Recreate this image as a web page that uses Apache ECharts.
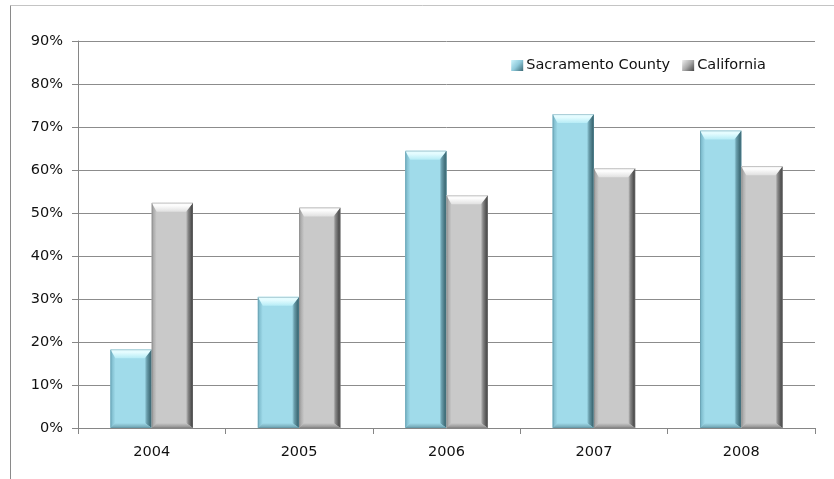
<!DOCTYPE html>
<html>
<head>
<meta charset="utf-8">
<script src="https://cdn.jsdelivr.net/npm/echarts@6/dist/echarts.min.js"></script>
<style>
  html, body { margin: 0; padding: 0; background: #fff; }
  #chart { width: 834px; height: 479px; }
</style>
</head>
<body>
<div id="chart"></div>
<script>
// Share of respondents by year
const years = ['2004', '2005', '2006', '2007', '2008'];
const sacramento = [18.3, 30.5, 64.5, 73.0, 69.2];
const california = [52.4, 51.3, 54.1, 60.4, 60.9];
const seriesNames = ['Sacramento County', 'California'];
const yTicks = [0, 10, 20, 30, 40, 50, 60, 70, 80, 90];

// Bevel palettes: face, top highlight, left, right shadow, bottom
const palettes = [
  { face: '#a0dbea', topHi: '#e4fcff', topLo: '#b6ecf6', left: '#74b2c4', right: '#2f5963', mid: '#6a9eac', bottom: '#6c9fad', edge: '#5f93a2' },
  { face: '#c9c9c9', topHi: '#fcfcfc', topLo: '#e0e0e0', left: '#9c9c9c', right: '#383838', mid: '#8a8a8a', bottom: '#8a8a8a', edge: '#808080' }
];

function bevelBar(seriesIdx) {
  return function (params, api) {
    const idx = api.value(0);
    const val = api.value(1);
    const base = api.coord([idx, 0]);
    const top = api.coord([idx, val]);
    const band = api.size([1, 0])[0];
    const bw = band * 0.28;
    const x0 = seriesIdx === 0 ? base[0] - bw : base[0];
    const x1 = x0 + bw;
    const y0 = top[1];
    const y1 = base[1];
    const p = palettes[seriesIdx];
    const bt = 9, bl = 5, br = 7, bb = 5;
    const h = y1 - y0;
    const tb = Math.min(bt, h / 2), bbb = Math.min(bb, h / 2);
    return {
      type: 'group',
      children: [
        { type: 'rect', shape: { x: x0, y: y0, width: bw, height: h },
          style: { fill: p.face } },
        { type: 'polygon', shape: { points: [[x0, y0], [x0 + bl, y0 + tb], [x0 + bl, y1 - bbb], [x0, y1]] },
          style: { fill: new echarts.graphic.LinearGradient(0, 0, 1, 0, [
            { offset: 0, color: p.left }, { offset: 1, color: p.face }]) } },
        { type: 'polygon', shape: { points: [[x1, y0], [x1 - br, y0 + tb], [x1 - br, y1 - bbb], [x1, y1]] },
          style: { fill: new echarts.graphic.LinearGradient(0, 0, 1, 0, [
            { offset: 0, color: p.face }, { offset: 0.3, color: p.mid }, { offset: 1, color: p.right }]) } },
        { type: 'polygon', shape: { points: [[x0, y1], [x0 + bl, y1 - bbb], [x1 - br, y1 - bbb], [x1, y1]] },
          style: { fill: new echarts.graphic.LinearGradient(0, 0, 0, 1, [
            { offset: 0, color: p.face }, { offset: 1, color: p.bottom }]) } },
        { type: 'polygon', shape: { points: [[x0, y0], [x1, y0], [x1 - br, y0 + tb], [x0 + bl, y0 + tb]] },
          style: { fill: new echarts.graphic.LinearGradient(0, 0, 0, 1, [
            { offset: 0, color: p.topHi }, { offset: 0.35, color: p.topHi }, { offset: 1, color: p.topLo }]) } },
        { type: 'rect', shape: { x: x0 + 0.5, y: y0 + 0.5, width: bw - 1, height: h - 1 },
          style: { fill: 'none', stroke: p.edge, lineWidth: 1, opacity: 0.45 } }
      ]
    };
  };
}

const chart = echarts.init(document.getElementById('chart'), null, { renderer: 'canvas' });
const textFont = 'DejaVu Sans';

chart.setOption({
  animation: false,
  textStyle: { fontFamily: textFont },
  graphic: [
    { type: 'line', shape: { x1: 10.5, y1: 5.5, x2: 834, y2: 5.5 },
      style: { stroke: '#c4c4c4', lineWidth: 1 }, z: 0 },
    { type: 'line', shape: { x1: 10.5, y1: 5.5, x2: 10.5, y2: 479 },
      style: { stroke: '#8a8a8a', lineWidth: 1 }, z: 0 }
  ],
  legend: {
    top: 53,
    right: 63,
    itemWidth: 12,
    itemHeight: 11,
    itemGap: 12,
    icon: 'rect',
    textStyle: { fontFamily: textFont, fontSize: 14.5, color: '#111', padding: [0, 0, 0, -2] },
    data: [
      { name: seriesNames[0], itemStyle: { color: new echarts.graphic.LinearGradient(0, 0, 1, 1, [
          { offset: 0, color: '#cdf4fc' }, { offset: 0.5, color: '#8fcadb' }, { offset: 1, color: '#3b6a76' }]) } },
      { name: seriesNames[1], itemStyle: { color: new echarts.graphic.LinearGradient(0, 0, 1, 1, [
          { offset: 0, color: '#eeeeee' }, { offset: 0.5, color: '#aaaaaa' }, { offset: 1, color: '#454545' }]) } }
    ]
  },
  grid: { left: 78, right: 19, top: 41, bottom: 51, containLabel: false },
  xAxis: {
    type: 'category',
    data: years,
    axisLine: { lineStyle: { color: '#868686', width: 1 } },
    axisTick: { show: true, length: 6, lineStyle: { color: '#868686' } },
    axisLabel: { color: '#111', fontSize: 14.5, margin: 17, fontFamily: textFont }
  },
  yAxis: {
    type: 'value',
    min: 0,
    max: 90,
    interval: 10,
    axisLine: { show: true, lineStyle: { color: '#868686', width: 1 } },
    axisTick: { show: true, length: 6, lineStyle: { color: '#868686' } },
    axisLabel: { color: '#111', fontSize: 14.5, margin: 15, fontFamily: textFont,
      formatter: v => (yTicks.includes(v) ? v + '%' : '') },
    splitLine: { lineStyle: { color: '#8c8c8c', width: 1 } }
  },
  series: [
    { name: seriesNames[0], type: 'custom', renderItem: bevelBar(0),
      itemStyle: { color: '#8fcadb' },
      encode: { x: 0, y: 1 },
      data: sacramento.map((v, i) => [i, v]) },
    { name: seriesNames[1], type: 'custom', renderItem: bevelBar(1),
      itemStyle: { color: '#aaaaaa' },
      encode: { x: 0, y: 1 },
      data: california.map((v, i) => [i, v]) }
  ]
});
</script>
</body>
</html>
